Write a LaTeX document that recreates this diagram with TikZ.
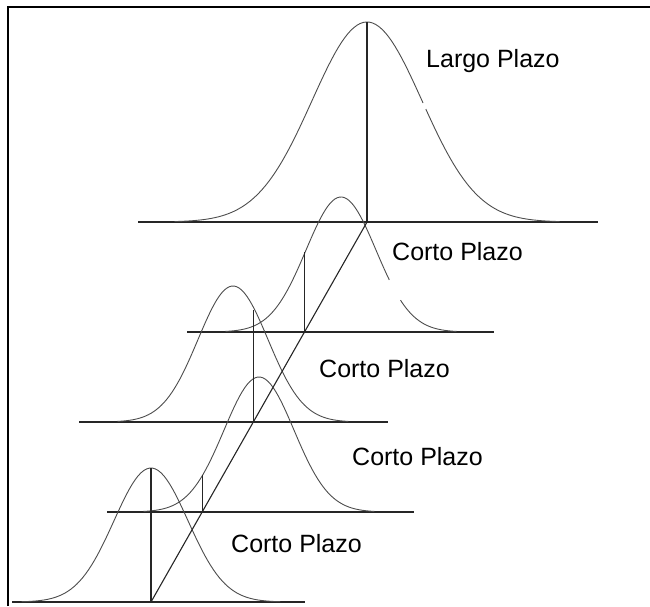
\documentclass[tikz,border=0pt]{standalone}
\usepackage{fontspec}
\setmainfont{Liberation Sans}
\begin{document}
\begin{tikzpicture}[x=1pt,y=-1pt,
  curve/.style={line width=0.9pt, black!70},
  axisline/.style={line width=1.2pt, black!85},
  guide/.style={line width=1.1pt, black!85},
  lbl/.style={font=\fontsize{25}{30}\selectfont, inner sep=0pt, anchor=base west, text=black}]
\useasboundingbox (0,0) rectangle (650,606);
% frame
\draw[line width=2pt] (8,606) -- (8,7) -- (650,7);

% ---- Largo plazo ----
\coordinate (Lpk) at (367,22);
\coordinate (Lft) at (367,222);
\coordinate (La) at (138,222);
\coordinate (Lb) at (598,222);
\draw[axisline] (La) -- (Lb);
\draw[curve] plot[domain=-3.5:1.02, samples=80] ({367+55*\x},{222-200*exp(-\x*\x/2)});
\draw[curve] plot[domain=1.07:3.5, samples=50] ({367+55*\x},{222-200*exp(-\x*\x/2)});
\draw[guide] (Lpk) -- (Lft);

% ---- Corto plazo 1 ----
\coordinate (Aa) at (187,332);
\coordinate (Ab) at (494,332);
\draw[axisline] (Aa) -- (Ab);
\draw[curve] plot[domain=-3.3:1.38, samples=70] ({341+35*\x},{332-135*exp(-\x*\x/2)});
\draw[curve] plot[domain=1.70:3.3, samples=40] ({341+35*\x},{332-135*exp(-\x*\x/2)});

% ---- Corto plazo 2 ----
\coordinate (Ba) at (79,422);
\coordinate (Bb) at (388,422);
\draw[axisline] (Ba) -- (Bb);
\draw[curve] plot[domain=-3.3:3.3, samples=90] ({233+35*\x},{422-136*exp(-\x*\x/2)});

% ---- Corto plazo 3 ----
\coordinate (Ca) at (107,512);
\coordinate (Cb) at (414,512);
\draw[axisline] (Ca) -- (Cb);
\draw[curve] plot[domain=-3.3:3.3, samples=90] ({259+35*\x},{512-135*exp(-\x*\x/2)});

% ---- Corto plazo 4 ----
\coordinate (Da) at (12,602);
\coordinate (Db) at (305,602);
\coordinate (Dpk) at (151,468);
\coordinate (Dft) at (151,602);
\draw[axisline] (Da) -- (Db);
\draw[curve] plot[domain=-3.5:3.5, samples=90] ({151+37*\x},{602-134*exp(-\x*\x/2)});
\draw[guide] (Dpk) -- (Dft);

% ---- diagonal and verticals ----
\draw[guide] (Lft) -- (Dft);
\coordinate (v1) at (intersection of Lft--Dft and Aa--Ab);
\coordinate (v2) at (intersection of Lft--Dft and Ba--Bb);
\coordinate (v3) at (intersection of Lft--Dft and Ca--Cb);
\draw[guide] (v1) -- (v1 |- 0,252);
\draw[guide] (v2) -- (v2 |- 0,310);
\draw[guide] (v3) -- (v3 |- 0,475);

% ---- labels ----
\node[lbl] (tL) at (426,67) {Largo Plazo};
\node[lbl] (t1) at (392,260) {Corto Plazo};
\node[lbl] (t2) at (319,377) {Corto Plazo};
\node[lbl] (t3) at (352,465) {Corto Plazo};
\node[lbl] (t4) at (231,552) {Corto Plazo};
\end{tikzpicture}
\end{document}
